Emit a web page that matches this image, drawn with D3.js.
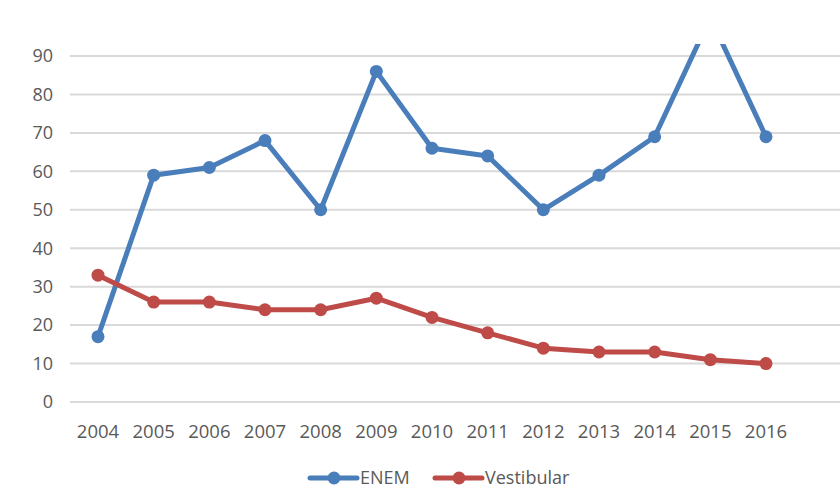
<!DOCTYPE html>
<html><head><meta charset="utf-8">
<script src="https://cdn.jsdelivr.net/npm/d3@7"></script>
<style>body{margin:0;background:#fff}text{font-family:"Open Sans",sans-serif;fill:#595959}</style>
</head><body><svg id="c" width="840" height="490"></svg>
<script>
const years = ["2004","2005","2006","2007","2008","2009","2010","2011","2012","2013","2014","2015","2016"];
const enem = [17,59,61,68,50,86,66,64,50,59,69,100,69];
const vestibular = [33,26,26,24,24,27,22,18,14,13,13,11,10];
const yTicks = [0,10,20,30,40,50,60,70,80,90];

const svg = d3.select("#c");
const x = d3.scalePoint().domain(years).range([98,766]);
const y = d3.scaleLinear().domain([0,90]).range([402,56]);

svg.append("defs").append("clipPath").attr("id","clip")
  .append("rect").attr("x",0).attr("y",44).attr("width",840).attr("height",446);

const grid = svg.append("g");
grid.selectAll("line").data(yTicks).join("line")
  .attr("x1",70).attr("x2",840).attr("y1",d=>y(d)).attr("y2",d=>y(d))
  .attr("stroke","#d9d9d9").attr("stroke-width",2);
grid.selectAll("text").data(yTicks).join("text")
  .attr("x",53).attr("y",d=>y(d)).attr("dy","0.35em").attr("text-anchor","end")
  .attr("font-size",18).text(d=>d);

svg.append("g").selectAll("text").data(years).join("text")
  .attr("x",d=>x(d)).attr("y",438).attr("text-anchor","middle").attr("font-size",18.5).text(d=>d);

const line = d3.line().x((d,i)=>x(years[i])).y(d=>y(d));
const series = [{name:"ENEM",vals:enem,color:"#4a7ebb"},{name:"Vestibular",vals:vestibular,color:"#be4b48"}];
const plot = svg.append("g").attr("clip-path","url(#clip)");
series.forEach(s=>{
  plot.append("path").datum(s.vals).attr("d",line).attr("fill","none")
    .attr("stroke",s.color).attr("stroke-width",5).attr("stroke-linejoin","round");
  plot.selectAll(null).data(s.vals).join("circle")
    .attr("cx",(d,i)=>x(years[i])).attr("cy",d=>y(d)).attr("r",6.5).attr("fill",s.color);
});

const leg = [{name:"ENEM",color:"#4a7ebb",x0:310},{name:"Vestibular",color:"#be4b48",x0:435}];
leg.forEach(l=>{
  svg.append("line").attr("x1",l.x0).attr("x2",l.x0+47).attr("y1",478).attr("y2",478)
    .attr("stroke",l.color).attr("stroke-width",5).attr("stroke-linecap","round");
  svg.append("circle").attr("cx",l.x0+24).attr("cy",478).attr("r",6.5).attr("fill",l.color);
  svg.append("text").attr("x",l.x0+50).attr("y",478).attr("dy","0.35em").attr("font-size",18).text(l.name);
});
</script></body></html>
